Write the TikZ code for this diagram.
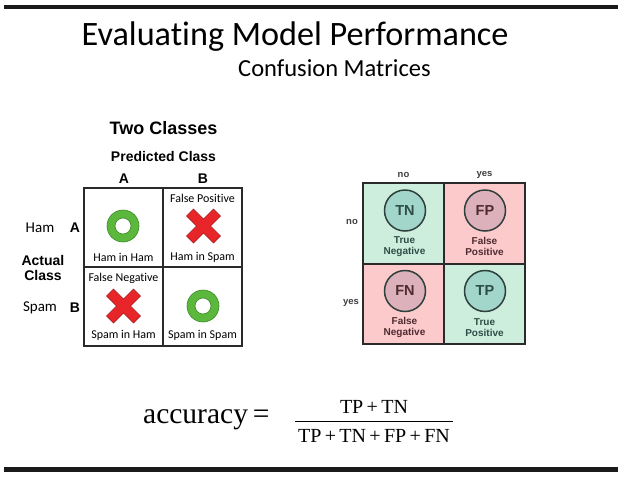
\documentclass[tikz,border=0pt]{standalone}
\usepackage{fontspec}
\setmainfont{Liberation Serif}
\newfontfamily\calfnt[Ligatures=NoCommon]{Carlito}
\newfontfamily\arifnt{Liberation Sans}
\usetikzlibrary{positioning}
\definecolor{barc}{HTML}{1A1A1A}
\definecolor{ringg}{HTML}{5CB83C}
\definecolor{ringd}{HTML}{3A8A28}
\definecolor{crossr}{HTML}{E8262A}
\definecolor{crossd}{HTML}{A51A1A}
\definecolor{cellg}{HTML}{CDEEDC}
\definecolor{cellr}{HTML}{FCCACA}
\definecolor{circg}{HTML}{A2D6CA}
\definecolor{circr}{HTML}{DDB1BB}
\definecolor{circline}{HTML}{2E3F3C}
\definecolor{txtg}{HTML}{2F4D47}
\definecolor{txtr}{HTML}{4E2A31}
\definecolor{gridc}{HTML}{2A2A2A}
\tikzset{
  calsmall/.style={font=\calfnt\fontsize{12}{13}\selectfont, inner sep=0pt},
  arb/.style={font=\arifnt\bfseries\fontsize{14}{16}\selectfont, inner sep=0pt},
  hdr/.style={font=\arifnt\bfseries\fontsize{9.5}{11}\selectfont, text=black!75, inner sep=0pt},
  lab/.style={font=\arifnt\bfseries\fontsize{10}{11}\selectfont, inner sep=0pt, align=center},
  circ/.style={circle, draw=circline, line width=1.5pt, minimum size=41pt, inner sep=0pt,
    font=\arifnt\bfseries\fontsize{14.5}{16}\selectfont},
  ring/.style={draw=ringd, line width=0.6pt, fill=ringg, even odd rule},
  crossshape/.style={draw=crossd, line width=0.6pt, fill=crossr},
}
\begin{document}
\begin{tikzpicture}[x=1pt,y=-1pt]
\useasboundingbox (0,0) rectangle (619,480);
\fill[white] (0,0) rectangle (619,480);
% bars
\fill[barc] (4,5) rectangle (618,9.3);
\fill[barc] (4,466.7) rectangle (618,472.3);
% titles
\node[anchor=base west, inner sep=0pt, font=\calfnt\fontsize{34.2}{37}\selectfont] (title) at (81.5,45.7) {Evaluating Model Performance};
\node[anchor=base west, inner sep=0pt, font=\calfnt\fontsize{24.5}{27}\selectfont] (subtitle) at (238,76.5) {Confusion Matrices};

% ---------- left matrix ----------
\node[arb, font=\arifnt\bfseries\fontsize{18}{20}\selectfont] (two) at (163.5,128.5) {Two Classes};
\node[arb] (pred) at (163.5,156) {Predicted Class};
\node[arb] (colA) at (124,179) {A};
\node[arb] (colB) at (203,179) {B};
\node[font=\calfnt\fontsize{15}{17}\selectfont, inner sep=0pt] (ham) at (40,228) {Ham};
\node[arb] (rowA) at (75,228) {A};
\node[arb, align=center, font=\arifnt\bfseries\fontsize{14}{15}\selectfont] (actual) at (43,267.5) {Actual\\Class};
\node[font=\calfnt\fontsize{15}{17}\selectfont, inner sep=0pt] (spam) at (40,308) {Spam};
\node[arb] (rowB) at (75,308) {B};
% grid
\draw[gridc, line width=1.3pt] (84,188) rectangle (242,346);
\draw[gridc, line width=1.3pt] (163,188) -- (163,346);
\draw[gridc, line width=1.3pt] (84,267) -- (242,267);
% cell texts
\node[calsmall] (hih) at (123.5,257) {Ham in Ham};
\node[calsmall] (fpos) at (202.5,198) {False Positive};
\node[calsmall] (his) at (202.5,257) {Ham in Spam};
\node[calsmall] (fneg) at (123.5,278) {False Negative};
\node[calsmall] (sih) at (123.5,335) {Spam in Ham};
\node[calsmall] (sis) at (202.5,335) {Spam in Spam};
% rings
\path[ring] (123,226) circle[radius=16] (123,226) circle[radius=8];
\path[ring] (203,306) circle[radius=16] (203,306) circle[radius=8];
% crosses
\begin{scope}[shift={(203.5,226)}]
\path[crossshape] (-17,-10) -- (-10,-17) -- (0,-7) -- (10,-17) -- (17,-10) -- (7,0) -- (17,10) -- (10,17) -- (0,7) -- (-10,17) -- (-17,10) -- (-7,0) -- cycle;
\end{scope}
\begin{scope}[shift={(123.5,306)}]
\path[crossshape] (-17,-10) -- (-10,-17) -- (0,-7) -- (10,-17) -- (17,-10) -- (7,0) -- (17,10) -- (10,17) -- (0,7) -- (-10,17) -- (-17,10) -- (-7,0) -- cycle;
\end{scope}

% ---------- right matrix ----------
\fill[cellg] (363,183) rectangle (444,264);
\fill[cellr] (444,183) rectangle (525,264);
\fill[cellr] (363,264) rectangle (444,344);
\fill[cellg] (444,264) rectangle (525,344);
\draw[gridc, line width=1.3pt] (363,183) rectangle (525,344);
\draw[gridc, line width=1.3pt] (444,183) -- (444,344);
\draw[gridc, line width=1.3pt] (363,264) -- (525,264);
\node[hdr] (cno) at (403.5,175) {no};
\node[hdr] (cyes) at (484.5,175) {yes};
\node[hdr] (rno) at (352,222) {no};
\node[hdr] (ryes) at (351,303) {yes};
\node[circ, fill=circg, text=txtg] (tn) at (405,210.5) {TN};
\node[circ, fill=circr, text=txtr] (fp) at (485,210.5) {FP};
\node[circ, fill=circr, text=txtr] (fn) at (405,291) {FN};
\node[circ, fill=circg, text=txtg] (tp) at (485,291) {TP};
\node[lab, text=txtg] (tnl) at (404.5,246.5) {True\\Negative};
\node[lab, text=txtr] (fpl) at (484.5,246.5) {False\\Positive};
\node[lab, text=txtr] (fnl) at (404.5,327.5) {False\\Negative};
\node[lab, text=txtg] (tpl) at (484.5,327.5) {True\\Positive};

% ---------- formula ----------
\node[anchor=base west, inner sep=0pt, font=\fontsize{29.5}{32}\selectfont] (acc) at (143,423) {accuracy\hspace{5pt}=};
\node[anchor=base, inner sep=0pt, font=\fontsize{20}{22}\selectfont] (num) at (374,413) {TP\,+\,TN};
\coordinate (fl) at (295,421);
\coordinate (fr) at (453,421);
\draw[line width=0.8pt] (fl) -- (fr);
\node[anchor=base, inner sep=0pt, font=\fontsize{20}{22}\selectfont] (den) at (374,442) {TP\,+\,TN\,+\,FP\,+\,FN};
\end{tikzpicture}
\end{document}
